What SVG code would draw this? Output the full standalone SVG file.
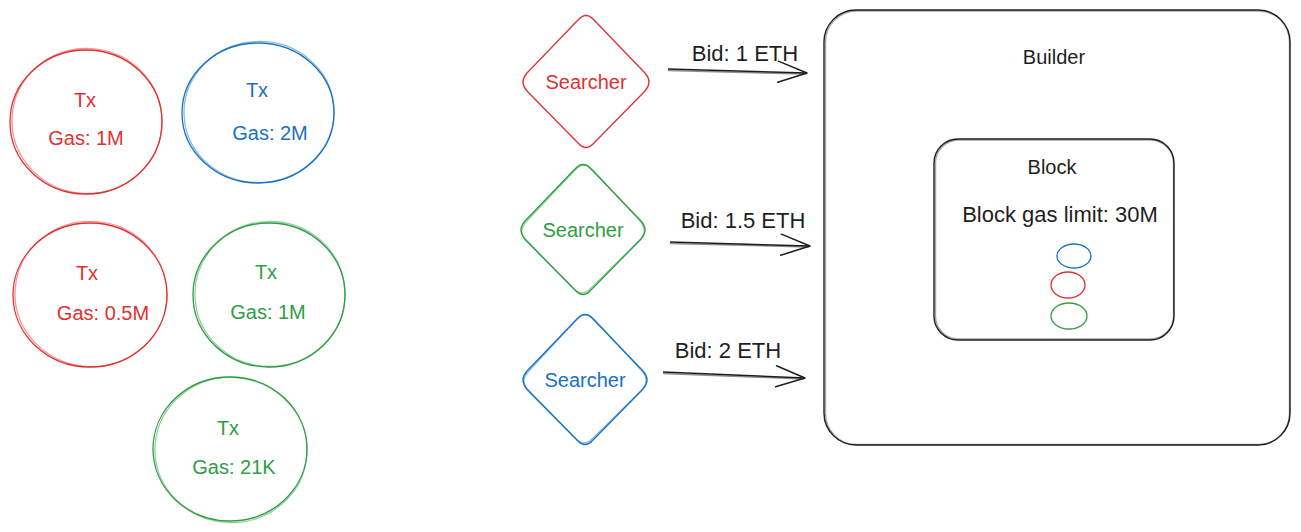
<svg xmlns="http://www.w3.org/2000/svg" width="1301" height="532" viewBox="0 0 1301 532">
<defs>
<style>
.t{font-family:"Liberation Sans",Arial,sans-serif;font-size:20px;text-anchor:middle;dominant-baseline:central}
.w{font-size:22px}
.red{stroke:#e03131;fill:none;stroke-width:1.3}
.blue{stroke:#1971c2;fill:none;stroke-width:1.3}
.green{stroke:#2f9e44;fill:none;stroke-width:1.3}
.blk{stroke:#1e1e1e;fill:none;stroke-width:1.4}
.tr{fill:#e03131}.tb{fill:#1971c2}.tg{fill:#2f9e44}.tk{fill:#1e1e1e}
.edge{stroke:#1e1e1e;fill:none;stroke-width:1.5}
</style>
<marker id="ah" markerUnits="userSpaceOnUse" markerWidth="40" markerHeight="30" refX="30" refY="12" orient="auto" viewBox="0 0 40 30">
<path d="M1,1 L30,12 L1,22" fill="none" stroke="#1e1e1e" stroke-width="1.5" stroke-linecap="round" stroke-linejoin="round"/>
</marker>
</defs>
<rect width="1301" height="532" fill="#ffffff"/>

<g id="tx1">
<ellipse class="red" cx="86" cy="122" rx="76" ry="72"/>
<ellipse class="red" cx="87" cy="121" rx="75" ry="72.5" transform="rotate(3 87 121)" opacity="0.5"/>
<text class="t tr" x="85" y="100">Tx</text>
<text class="t tr" x="86" y="138">Gas: 1M</text>
</g>
<g id="tx2">
<ellipse class="blue" cx="258" cy="113" rx="76" ry="70"/>
<ellipse class="blue" cx="259" cy="112" rx="75" ry="70.5" transform="rotate(-3 259 112)" opacity="0.5"/>
<text class="t tb" x="257" y="90">Tx</text>
<text class="t tb" x="270" y="133">Gas: 2M</text>
</g>
<g id="tx3">
<ellipse class="red" cx="90" cy="295" rx="77" ry="72"/>
<ellipse class="red" cx="91" cy="294" rx="76" ry="72.5" transform="rotate(4 91 294)" opacity="0.5"/>
<text class="t tr" x="87" y="273">Tx</text>
<text class="t tr" x="103" y="313">Gas: 0.5M</text>
</g>
<g id="tx4">
<ellipse class="green" cx="269" cy="295" rx="76" ry="72"/>
<ellipse class="green" cx="270" cy="294" rx="75" ry="72.5" transform="rotate(-3 270 294)" opacity="0.5"/>
<text class="t tg" x="266" y="272">Tx</text>
<text class="t tg" x="268" y="312">Gas: 1M</text>
</g>
<g id="tx5">
<ellipse class="green" cx="230" cy="449" rx="77" ry="72"/>
<ellipse class="green" cx="231" cy="450" rx="76" ry="72.5" transform="rotate(3 231 450)" opacity="0.5"/>
<text class="t tg" x="228" y="428">Tx</text>
<text class="t tg" x="234" y="467">Gas: 21K</text>
</g>

<g id="searcher1">
<path class="red" d="M578,20 Q586,11 594,20 L645,73 Q653,82 645,91 L594,143 Q586,152 578,143 L527,91 Q519,82 527,73 Z"/>
<text class="t tr" x="586" y="82">Searcher</text>
</g>
<g id="searcher2">
<path class="green" d="M575,169 Q583,160 591,169 L641,221 Q649,230 641,239 L591,290 Q583,299 575,290 L525,239 Q517,230 525,221 Z"/>
<path class="green" d="M576,169 Q584,161 592,169 L641,222 Q648,231 640,240 L590,289 Q582,297 574,289 L525,240 Q518,231 526,222 Z" opacity="0.5"/>
<text class="t tg" x="583" y="230">Searcher</text>
</g>
<g id="searcher3">
<path class="blue" d="M577,319 Q585,310 593,319 L643,371 Q651,380 643,389 L593,440 Q585,449 577,440 L527,389 Q519,380 527,371 Z"/>
<path class="blue" d="M578,318 Q586,311 594,319 L643,372 Q650,381 642,390 L592,439 Q584,447 576,439 L527,390 Q520,381 528,372 Z" opacity="0.5"/>
<text class="t tb" x="585" y="380">Searcher</text>
</g>

<g id="builder">
<rect class="blk" x="824" y="10" width="466" height="435" rx="32" ry="32"/>
<rect class="blk" x="825.5" y="11" width="464" height="433.5" rx="31" ry="31" opacity="0.4"/>
<text class="t tk" x="1054" y="57">Builder</text>
</g>
<g id="block">
<rect class="blk" x="934" y="139" width="240" height="201" rx="24" ry="24"/>
<rect class="blk" x="935.5" y="140" width="238" height="199" rx="23" ry="23" opacity="0.4"/>
<text class="t tk" x="1052" y="167">Block</text>
<text class="t tk w" x="1060" y="214">Block gas limit: 30M</text>
<ellipse class="blue" cx="1074" cy="256" rx="17" ry="12"/>
<ellipse class="red" cx="1068" cy="285" rx="17" ry="13"/>
<ellipse class="green" cx="1069" cy="316" rx="18" ry="13"/>
</g>

<g id="connectors">
<path class="edge" d="M668,69 L807,73" marker-end="url(#ah)"/>
<path class="edge" d="M668,70.5 L806,74" opacity="0.5"/>
<text class="t tk w" x="745" y="53">Bid: 1 ETH</text>
<path class="edge" d="M670,242 L810,246" marker-end="url(#ah)"/>
<path class="edge" d="M670,243.5 L809,247" opacity="0.5"/>
<text class="t tk w" x="743" y="220">Bid: 1.5 ETH</text>
<path class="edge" d="M663,372 L805,378" marker-end="url(#ah)"/>
<path class="edge" d="M663,373.5 L804,379" opacity="0.5"/>
<text class="t tk w" x="728" y="350">Bid: 2 ETH</text>
</g>
</svg>
